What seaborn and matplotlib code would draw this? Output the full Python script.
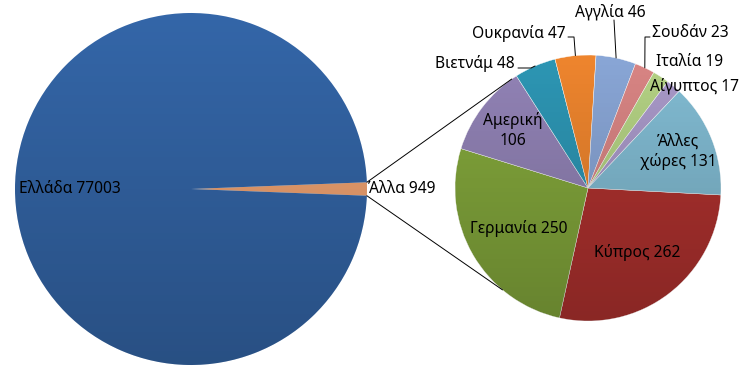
import numpy as np
import matplotlib
matplotlib.use("Agg")
import matplotlib.pyplot as plt
from matplotlib.patches import Circle
import seaborn as sns

# ---- data ----
main_labels = ["Άλλα", "Ελλάδα"]
main_values = [949, 77003]
sub_labels = ["Κύπρος", "Γερμανία", "Αμερική", "Βιετνάμ", "Ουκρανία",
              "Αγγλία", "Σουδάν", "Ιταλία", "Αίγυπτος", "Άλλες χώρες"]
sub_values = [262, 250, 106, 48, 47, 46, 23, 19, 17, 131]

main_colors = ["#F2A472", "#3466A8"]
sub_colors = ["#B0322F", "#84A83C", "#9283B6", "#2D96B4", "#EE852E",
              "#89A6D6", "#D98584", "#B4D284", "#A999C9", "#82BCD3"]

sns.set_theme(style="white")
plt.rcParams['font.family'] = ['Noto Sans', 'DejaVu Sans']

W, H = 740, 380
fig = plt.figure(figsize=(7.4, 3.8), dpi=100)
ax = fig.add_axes([0, 0, 1, 1])

def P(x, y):
    return (x, H - y)

# left (main) pie
c1 = P(191, 189)
r1 = 176
half = main_values[0] / sum(main_values) * 360 / 2
ax.pie(main_values, colors=main_colors, center=c1, radius=r1,
       startangle=-half, counterclock=True,
       wedgeprops=dict(edgecolor="none"), frame=True)

# right (secondary) pie
c2 = P(588, 188)
r2 = 133
start2 = -3
ax.pie(sub_values, colors=sub_colors, center=c2, radius=r2,
       startangle=start2, counterclock=False,
       wedgeprops=dict(edgecolor="white", linewidth=0.3), frame=True)
ax.set_xlim(0, W)
ax.set_ylim(0, H)
ax.set_aspect("equal")
ax.axis("off")

# subtle vertical shading (lighter top, darker bottom)
grad = np.linspace(0, 1, 256).reshape(-1, 1)
rgba = np.zeros((256, 1, 4))
rgba[..., 3] = 0.22 * grad  # darker toward bottom (image origin upper)
for (cx, cy), r in [(c1, r1), (c2, r2)]:
    im = ax.imshow(rgba, extent=(cx - r, cx + r, cy - r, cy + r),
                   origin="upper", aspect="auto", zorder=2)
    clip = Circle((cx, cy), r, transform=ax.transData)
    im.set_clip_path(clip)
ax.set_xlim(0, W)
ax.set_ylim(0, H)

fs = 11.2
# main labels
ax.text(c1[0] - 0.69 * r1, c1[1], f"{main_labels[1]} {main_values[1]}",
        ha="center", va="center", fontsize=fs, color="black", zorder=5)
ax.text(c1[0] + r1 + 1, c1[1], f"{main_labels[0]} {main_values[0]}",
        ha="left", va="center", fontsize=fs, color="black", zorder=5)

# connector lines
a_top, a_bot = np.deg2rad(half), np.deg2rad(-half)
for a_l, a_r in [(a_top, np.deg2rad(125)), (a_bot, np.deg2rad(230))]:
    x0 = c1[0] + r1 * np.cos(a_l); y0 = c1[1] + r1 * np.sin(a_l)
    x1 = c2[0] + r2 * np.cos(a_r); y1 = c2[1] + r2 * np.sin(a_r)
    ax.plot([x0, x1], [y0, y1], color="black", lw=0.7, zorder=4)

# secondary labels
total = sum(sub_values)
cum = np.cumsum([0] + sub_values)
mids = [start2 - (cum[i] + cum[i + 1]) / 2 / total * 360 for i in range(len(sub_values))]

inside = {"Κύπρος": (0.61, "Κύπρος 262"), "Γερμανία": (0.60, "Γερμανία 250"),
          "Αμερική": (0.71, "Αμερική\n106"), "Άλλες χώρες": (0.73, "Άλλες\nχώρες 131")}
outside = {
    "Βιετνάμ": ((515, 63), "right", [(518, 68), (531, 68)]),
    "Ουκρανία": ((566, 33), "right", [(568, 37), (574, 37)]),
    "Αγγλία": ((610, 12), "center", [(614, 20)]),
    "Σουδάν": ((652, 33), "left", [(650, 37), (645, 37)]),
    "Ιταλία": ((656, 62), "left", None),
    "Αίγυπτος": ((650, 86), "left", None),
}

for i, (lab, val) in enumerate(zip(sub_labels, sub_values)):
    ang = np.deg2rad(mids[i])
    if lab in inside:
        f, txt = inside[lab]
        ax.text(c2[0] + f * r2 * np.cos(ang), c2[1] + f * r2 * np.sin(ang), txt,
                ha="center", va="center", fontsize=fs, color="black",
                linespacing=1.3, zorder=5)
    else:
        (tx, ty), ha, path = outside[lab]
        ax.text(*P(tx, ty), f"{lab} {val}", ha=ha, va="center",
                fontsize=fs, color="black", zorder=5)
        if path:
            ex = c2[0] + r2 * np.cos(ang); ey = c2[1] + r2 * np.sin(ang)
            pts = [P(*p) for p in path] + [(ex, ey)]
            ax.plot([p[0] for p in pts], [p[1] for p in pts],
                    color="black", lw=0.7, zorder=4)

fig.savefig("out.png", dpi=100, facecolor="white")
